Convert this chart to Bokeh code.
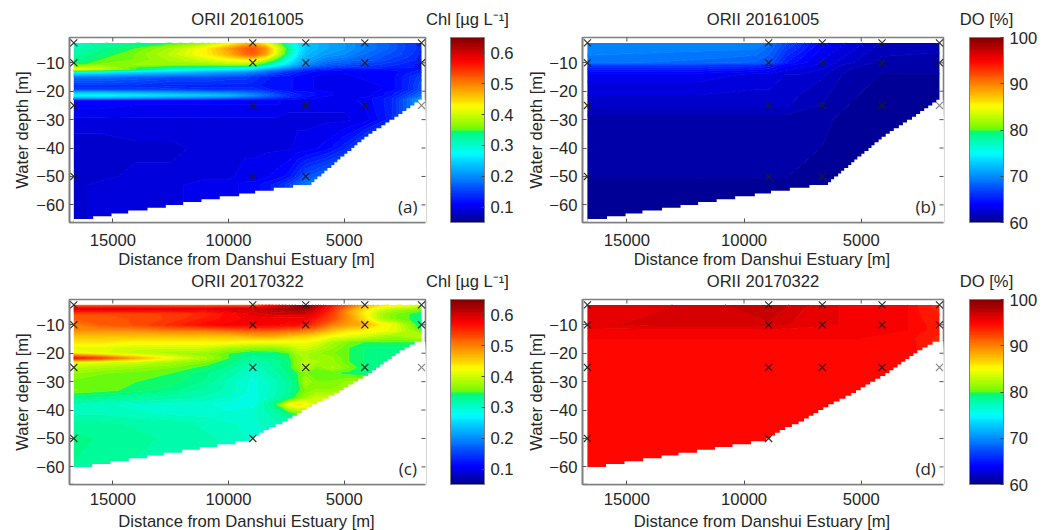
import numpy as np
from bokeh.embed import file_html
from bokeh.resources import INLINE
from bokeh.plotting import figure
from bokeh.layouts import column, row
from bokeh.models import (Range1d, FixedTicker, ColorBar, LinearColorMapper,
                          Label, PrintfTickFormatter)

# ---------- stations (distance from estuary, m) and sampled depths (m)
cross_a_x = [16684, 16684, 16684, 16684, 8950, 8950, 8950, 8950, 6660, 6660, 6660, 6660, 4110, 4110, 4110, 1660, 1660]
cross_a_y = [-3, -10, -25, -50, -3, -10, -25, -50, -3, -10, -25, -50, -3, -10, -25, -3, -10]
cross_c_x = [16684, 16684, 16684, 16684, 8950, 8950, 8950, 8950, 6660, 6660, 6660, 4110, 4110, 4110, 1660, 1660]
cross_c_y = [-3, -10, -25, -50, -3, -10, -25, -50, -3, -10, -25, -3, -10, -25, -3, -10]
pale_x = [1660]
pale_y = [-25]

# ---------- sea-floor steps: depth, and the distance at which each step ends
floor_a_depth = [-65, -64, -63, -62, -61, -60, -59, -58, -57, -56, -55, -54, -53, -52, -51, -50, -49, -48, -47, -46, -45, -44,
                 -43, -42, -41, -40, -39, -38, -37, -36, -35, -34, -33, -32, -31, -30, -29, -28, -27, -26, -25, -24, -23]
floor_a_end = [15847, 15056, 14335, 13500, 12710, 11959, 11168, 10378, 9539, 8848, 8045, 7207, 6416, 6286, 6157, 5984, 5855,
               5725, 5553, 5423, 5293, 5164, 4991, 4862, 4689, 4560, 4430, 4257, 4128, 3955, 3782, 3609, 3393, 3220, 3048,
               2831, 2658, 2485, 2312, 2139, 1966, 1794, 1664]
floor_c_depth = [-60, -59, -58, -57, -56, -55, -54, -53, -52, -51, -50, -49, -48, -47, -46, -45, -44, -43, -42, -41, -40, -39,
                 -38, -37, -36, -35, -34, -33, -32, -31, -30, -29, -28, -27, -26, -25, -24, -23, -22, -21, -20, -19, -18, -17, -16]
floor_c_end = [15891, 15099, 14307, 13515, 12795, 12003, 11240, 10491, 9699, 9051, 8878, 8677, 8475, 8245, 7957, 7669, 7438,
               7237, 7035, 6833, 6617, 6401, 6171, 5926, 5667, 5422, 5221, 5019, 4817, 4616, 4400, 4184, 3968, 3795, 3622,
               3449, 3291, 3118, 2945, 2773, 2600, 2384, 2168, 1952, 1707]

# ---------- panel (a) Chl, 20161005
a_x = [16684, 15500, 14000, 12500, 11000, 10000, 9300, 8950, 8400, 7900, 7400, 7000, 6660, 5800, 5000, 4110, 3000, 2300, 1660]
a_y = [-3, -5, -7, -9, -10.5, -11.5, -12.2, -13, -15, -18, -19.5, -20.5, -21.5, -22.5, -23, -30, -40, -50, -53, -67]
a_z = [
    [.30, .32, .33, .34, .37, .41, .45, .46, .42, .37, .30, .26, .24, .22, .21, .19, .17, .15, .14],
    [.31, .33, .35, .38, .43, .48, .52, .53, .49, .41, .33, .27, .24, .22, .21, .19, .17, .15, .14],
    [.32, .34, .36, .39, .43, .47, .51, .52, .48, .40, .32, .26, .23, .21, .20, .18, .16, .15, .13],
    [.33, .35, .36, .38, .40, .42, .43, .43, .39, .34, .28, .24, .22, .19, .18, .17, .15, .14, .13],
    [.34, .36, .37, .37, .37, .38, .38, .37, .33, .29, .25, .22, .20, .17, .16, .15, .14, .13, .12],
    [.38, .38, .35, .33, .32, .31, .30, .29, .26, .24, .21, .19, .17, .15, .14, .14, .13, .13, .12],
    [.42, .40, .35, .30, .28, .27, .26, .25, .22, .20, .18, .16, .14, .13, .12, .12, .12, .12, .12],
    [.29, .28, .26, .25, .23, .22, .21, .20, .18, .16, .14, .13, .12, .11, .11, .11, .11, .12, .13],
    [.18, .18, .17, .16, .16, .15, .15, .14, .13, .12, .12, .11, .11, .10, .10, .11, .11, .13, .15],
    [.14, .14, .14, .13, .13, .13, .13, .13, .12, .12, .12, .11, .11, .10, .10, .10, .11, .13, .16],
    [.15, .15, .15, .15, .14, .14, .14, .14, .13, .12, .12, .11, .11, .10, .10, .10, .11, .13, .16],
    [.23, .23, .22, .21, .20, .19, .18, .17, .16, .14, .13, .12, .12, .11, .10, .10, .12, .14, .17],
    [.27, .27, .26, .25, .24, .23, .21, .20, .18, .16, .14, .13, .12, .11, .10, .10, .12, .15, .18],
    [.20, .20, .19, .18, .17, .16, .15, .15, .14, .13, .12, .12, .11, .10, .10, .11, .13, .16, .20],
    [.115, .115, .11, .11, .11, .11, .11, .11, .11, .11, .10, .10, .10, .10, .10, .11, .13, .17, .22],
    [.095, .095, .095, .095, .095, .095, .095, .095, .095, .095, .095, .095, .095, .095, .095, .10, .13, .17, .22],
    [.08, .08, .085, .085, .09, .095, .095, .095, .095, .095, .095, .10, .10, .11, .13, .17, .20, .22, .22],
    [.08, .085, .09, .09, .095, .095, .10, .10, .105, .11, .12, .14, .16, .18, .20, .20, .20, .20, .20],
    [.085, .09, .09, .095, .10, .10, .11, .11, .12, .13, .15, .17, .19, .20, .20, .20, .20, .20, .20],
    [.085, .09, .09, .095, .10, .10, .11, .11, .12, .13, .15, .17, .19, .20, .20, .20, .20, .20, .20],
]

# ---------- panel (b) DO, 20161005
b_x = [16684, 12000, 9500, 8950, 8200, 7600, 6660, 5500, 4110, 1660]
b_y = [-3, -10, -10.6, -14, -25, -30, -67]
b_z = [
    [70.0, 70.0, 70.0, 69.0, 67.0, 66.0, 64.0, 63.0, 61.8, 61.5],
    [69.0, 68.5, 68.0, 67.5, 65.0, 64.0, 63.0, 62.0, 61.0, 61.0],
    [66.5, 66.5, 66.0, 65.5, 64.0, 63.5, 63.0, 61.5, 61.0, 61.0],
    [63.5, 63.5, 63.0, 63.0, 62.5, 62.5, 62.0, 61.0, 60.6, 60.6],
    [62.0, 62.0, 62.0, 62.0, 62.0, 61.5, 61.2, 60.6, 60.5, 60.5],
    [60.9, 60.9, 60.9, 60.9, 60.9, 60.8, 60.7, 60.5, 60.5, 60.5],
    [60.4, 60.4, 60.4, 60.4, 60.4, 60.4, 60.4, 60.4, 60.4, 60.4],
]

# ---------- panel (c) Chl, 20170322
c_x = [16684, 15500, 14000, 12500, 11000, 10000, 8950, 8000, 7400, 7000, 6660, 6200, 5500, 4800, 4110, 3400, 2800, 2200, 1660]
c_y = [-3, -4.5, -6, -8, -10, -12, -14, -16, -18, -20, -21.7, -23, -25, -27, -30, -33, -36, -38, -41, -45, -50, -61]
c_z = [
    [.50, .50, .50, .50, .50, .50, .50, .56, .60, .63, .65, .62, .56, .52, .47, .44, .43, .42, .40],
    [.59, .59, .59, .59, .59, .60, .60, .62, .63, .64, .63, .60, .55, .49, .44, .40, .38, .37, .36],
    [.53, .53, .53, .54, .55, .57, .59, .60, .60, .60, .60, .58, .54, .48, .43, .38, .36, .35, .34],
    [.52, .52, .53, .54, .56, .57, .58, .58, .58, .58, .58, .56, .53, .49, .44, .38, .36, .35, .33],
    [.50, .52, .53, .55, .57, .58, .58, .58, .57, .57, .56, .54, .50, .48, .47, .43, .41, .37, .33],
    [.49, .49, .49, .50, .50, .51, .52, .52, .51, .51, .50, .49, .46, .44, .43, .42, .41, .38, .35],
    [.46, .46, .46, .46, .46, .46, .47, .47, .46, .45, .45, .44, .42, .41, .40, .38, .37, .38, .39],
    [.44, .44, .43, .43, .43, .43, .42, .42, .42, .42, .42, .41, .38, .36, .35, .35, .35, .35, .35],
    [.41, .41, .40, .40, .40, .38, .37, .37, .38, .40, .40, .39, .37, .35, .34, .34, .34, .34, .34],
    [.43, .41, .39, .38, .37, .35, .335, .34, .35, .38, .38, .37, .36, .35, .34, .34, .34, .34, .34],
    [.56, .53, .47, .42, .38, .35, .325, .335, .345, .37, .38, .37, .37, .35, .34, .34, .34, .34, .34],
    [.42, .41, .40, .38, .36, .34, .315, .325, .34, .37, .39, .38, .37, .35, .34, .34, .34, .34, .34],
    [.39, .38, .37, .36, .345, .33, .305, .325, .34, .37, .39, .36, .38, .36, .34, .34, .34, .34, .34],
    [.37, .36, .355, .35, .335, .32, .30, .32, .335, .35, .36, .35, .35, .345, .34, .34, .34, .34, .34],
    [.355, .355, .35, .345, .33, .31, .29, .31, .325, .345, .38, .36, .36, .37, .37, .37, .37, .37, .37],
    [.36, .355, .345, .335, .32, .31, .29, .31, .325, .345, .36, .37, .37, .38, .38, .38, .38, .38, .38],
    [.33, .325, .32, .315, .31, .30, .285, .315, .335, .36, .38, .40, .40, .40, .40, .40, .40, .40, .40],
    [.31, .305, .30, .30, .295, .29, .29, .34, .42, .44, .43, .40, .37, .37, .37, .37, .37, .37, .37],
    [.31, .31, .305, .30, .30, .295, .30, .32, .34, .36, .36, .36, .36, .36, .36, .36, .36, .36, .36],
    [.325, .325, .32, .32, .31, .305, .30, .31, .31, .31, .31, .31, .31, .31, .31, .31, .31, .31, .31],
    [.335, .33, .325, .32, .315, .31, .30, .30, .30, .30, .30, .30, .30, .30, .30, .30, .30, .30, .30],
    [.33, .325, .32, .32, .315, .31, .30, .30, .30, .30, .30, .30, .30, .30, .30, .30, .30, .30, .30],
]

# ---------- panel (d) DO, 20170322
d_x = [16684, 14000, 11000, 9500, 8950, 8000, 6660, 5000, 3000, 2400, 1660]
d_y = [-3, -10, -12, -15, -61]
d_z = [
    [95.8, 96.0, 96.8, 97.4, 97.5, 96.8, 95.8, 95.4, 95.0, 94.0, 93.5],
    [96.0, 96.5, 96.5, 96.5, 96.8, 96.2, 95.8, 95.4, 95.0, 94.5, 94.0],
    [95.4, 95.4, 95.4, 95.4, 95.4, 95.3, 95.2, 95.1, 95.0, 94.5, 94.0],
    [95.0, 95.0, 95.0, 95.0, 95.0, 95.0, 95.0, 95.0, 94.8, 94.0, 93.5],
    [95.0, 95.0, 95.0, 95.0, 95.0, 95.0, 95.0, 95.0, 95.0, 95.0, 95.0],
]

chl_ticks = [0.1, 0.2, 0.3, 0.4, 0.5, 0.6]
do_ticks = [60, 70, 80, 90, 100]
dist_ticks = [15000, 10000, 5000]
depth_ticks = [-10, -20, -30, -40, -50, -60]
x_label = "Distance from Danshui Estuary [m]"
y_label = "Water depth [m]"

FONT = "Liberation Sans"
FS = "16.6px"
TXT = "#262626"
FRAME = "#7f7f7f"
Y0, Y1 = -66.2, -1.1

# jet-like colour stops
stop_pos = [0, .10, .375, .49, .51, .625, .875, 1]
stop_rgb = [(0, 0, 143), (0, 0, 255), (0, 255, 255), (0, 250, 120), (120, 250, 0), (255, 255, 0), (255, 0, 0), (128, 0, 0)]


def palette(n):
    t = (np.arange(n) + .5) / n
    rgb = np.array(stop_rgb, float)
    ch = [np.interp(t, stop_pos, rgb[:, i]) for i in range(3)]
    return ["#%02x%02x%02x" % (int(r), int(g), int(b)) for r, g, b in zip(*ch)]


PAL = palette(64)


def panel(width, height, left, top, frame_w, x_rng, title, x, y, z, lo, hi, ticks, fmt, cb_title, cb_title_px, bar_gap,
          cross_x, cross_y, floor_depth, floor_end, tag, ylabel_standoff, tick_standoff):
    p = figure(width=width, height=height, output_backend="svg", toolbar_location=None,
               x_range=Range1d(*x_rng), y_range=Range1d(Y0, Y1),
               min_border_left=left, min_border_right=width - left - frame_w,
               min_border_top=top, min_border_bottom=height - top - 185,
               outline_line_color=FRAME, outline_line_width=1.6, background_fill_color="white")
    p.grid.visible = False

    xs = np.array(x, float)[::-1]
    ys = np.array(y, float)[::-1]
    zz = np.array(z, float)[::-1, ::-1]
    levels = np.linspace(lo, hi, 65)
    p.contour(xs, ys, zz, levels, fill_color=PAL, line_color=PAL + [PAL[-1]], line_width=1)

    # white below the sea floor: every step runs on to the right edge, so no seams show
    ends = np.array(floor_end, float)
    starts = np.r_[x[0], ends[:-1]]
    p.quad(left=starts, right=x_rng[1], top=floor_depth, bottom=Y0 - 2, fill_color="white", line_color=None)

    p.scatter(cross_x, cross_y, marker="x", size=10, line_color="#1c1c1c", line_width=1.2, line_alpha=.9)
    p.scatter(pale_x, pale_y, marker="x", size=10, line_color="#8c8c8c", line_width=1.2)

    # tick marks on the top and right edges (half of each dash is clipped by the frame)
    p.scatter(dist_ticks, [Y1] * len(dist_ticks), marker="dash", angle=np.pi / 2, size=8, line_color="#555555", line_width=1)
    p.scatter([x_rng[1]] * len(depth_ticks), depth_ticks, marker="dash", size=8, line_color="#555555", line_width=1)

    for ax in (p.xaxis[0], p.yaxis[0]):
        ax.axis_line_color = FRAME
        ax.axis_line_width = 1.6
        ax.major_tick_line_color = "#555555"
        ax.major_tick_in = 4
        ax.major_tick_out = 0
        ax.minor_tick_line_color = None
        ax.major_label_text_font = FONT
        ax.major_label_text_font_size = FS
        ax.major_label_text_color = TXT
        ax.axis_label_text_font = FONT
        ax.axis_label_text_font_size = FS
        ax.axis_label_text_font_style = "normal"
        ax.axis_label_text_color = TXT
    p.xaxis[0].major_label_standoff = tick_standoff
    p.yaxis[0].major_label_standoff = 5
    p.xaxis[0].ticker = FixedTicker(ticks=dist_ticks)
    p.yaxis[0].ticker = FixedTicker(ticks=depth_ticks)
    p.yaxis[0].axis_label = y_label
    p.yaxis[0].axis_label_standoff = ylabel_standoff

    mapper = LinearColorMapper(palette=PAL, low=lo, high=hi)
    cb = ColorBar(color_mapper=mapper, ticker=FixedTicker(ticks=ticks), formatter=PrintfTickFormatter(format=fmt),
                  location=(frame_w + bar_gap, 0), width=34, height=185, padding=0, margin=0,
                  background_fill_alpha=0, bar_line_color=FRAME, bar_line_width=1,
                  major_tick_line_color="#444444", major_tick_in=3, minor_tick_line_color=None,
                  major_label_text_font=FONT, major_label_text_font_size=FS, major_label_text_color=TXT,
                  label_standoff=6)
    p.add_layout(cb, "center")

    kw = dict(text_font=FONT, text_font_size=FS, text_color=TXT, text_align="center", text_baseline="middle")
    p.add_layout(Label(x=frame_w / 2, y=18, x_units="screen", y_units="screen", text=title, **kw), "above")
    per_px = (x_rng[0] - x_rng[1]) / frame_w
    per_py = (Y1 - Y0) / 185
    p.add_layout(Label(x=x_rng[0] - cb_title_px * per_px, y=Y1 + 18 * per_py, text=cb_title, **kw), "right")
    p.add_layout(Label(x=x_rng[0] - (frame_w / 2 - 1) * per_px, y=Y0 - 36.5 * per_py, text=x_label, **kw), "below")
    p.add_layout(Label(x=2250, y=-60.6, text=tag, text_font="Open Sans", text_font_size="17px", text_color=TXT,
                       text_align="center", text_baseline="middle"))
    return p


WL, WR = 520, 533
H1, H2 = 272, 258
pa = panel(WL, H1, 69, 37, 356, (16871, 1487), "ORII 20161005", a_x, a_y, a_z, .05, .65, chl_ticks, "%.1f",
           "Chl [\u00b5g L\u207b\u00b9]", 398, 25, cross_a_x, cross_a_y, floor_a_depth, floor_a_end, "(a)", 1, 11)
pb = panel(WR, H1, 62, 37, 361, (16893, 1488), "ORII 20161005", b_x, b_y, b_z, 60, 100, do_ticks, "%d",
           "DO [%]", 404, 26, cross_a_x, cross_a_y, floor_a_depth, floor_a_end, "(b)", 0, 11)
pc = panel(WL, H2, 69, 27, 356, (16871, 1487), "ORII 20170322", c_x, c_y, c_z, .05, .65, chl_ticks, "%.1f",
           "Chl [\u00b5g L\u207b\u00b9]", 398, 25, cross_c_x, cross_c_y, floor_c_depth, floor_c_end, "(c)", 1, 8)
pd = panel(WR, H2, 62, 27, 361, (16893, 1488), "ORII 20170322", d_x, d_y, d_z, 60, 100, do_ticks, "%d",
           "DO [%]", 404, 26, cross_c_x, cross_c_y, floor_c_depth, floor_c_end, "(d)", 0, 8)

layout = column(row(pa, pb), row(pc, pd))
open("out.html", "w").write(file_html(layout, INLINE))
